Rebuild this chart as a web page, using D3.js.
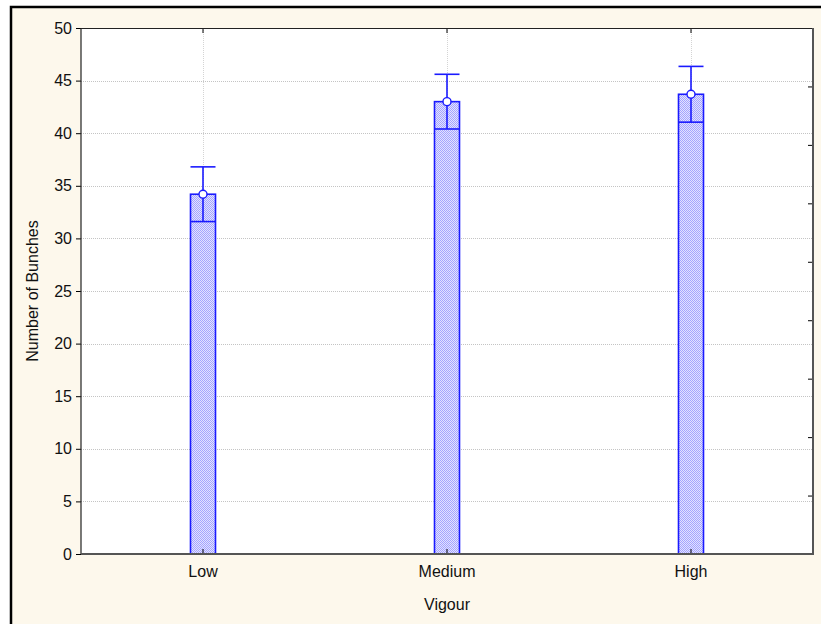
<!DOCTYPE html>
<html>
<head>
<meta charset="utf-8">
<script src="https://cdn.jsdelivr.net/npm/d3@7"></script>
<style>
  body { margin: 0; background: #fff; }
  svg text { font-family: "Liberation Sans", Arial, sans-serif; fill: #111; }
</style>
</head>
<body>
<svg width="821" height="624"></svg>
<script>
// data
let categories = ["Low", "Medium", "High"]
let means = [34.2, 43.0, 43.7]
let upper = [36.8, 45.6, 46.35]
let lower = [31.6, 40.4, 41.05]
let yTicks = [0, 5, 10, 15, 20, 25, 30, 35, 40, 45, 50]
let rightTicks = [0, 1, 2, 3, 4, 5, 6, 7]

let width = 821, height = 624,
    margin = ({ top: 28, right: 8, bottom: 70, left: 81 })

let svg = d3.select("svg")

// cream background with a black frame (runs off the right/bottom edge)
svg.append("rect")
  .attr("x", 11).attr("y", 7)
  .attr("width", 820).attr("height", 630)
  .attr("fill", "#fdf8ec")
  .attr("stroke", "#000")
  .attr("stroke-width", 2.5)

let defs = svg.append("defs")
let pat = defs.append("pattern")
  .attr("id", "check")
  .attr("patternUnits", "userSpaceOnUse")
  .attr("width", 2).attr("height", 2)
pat.append("rect").attr("width", 2).attr("height", 2).attr("fill", "#e2e2ff")
pat.append("rect").attr("width", 1).attr("height", 1).attr("fill", "#a4a4ff")
pat.append("rect").attr("x", 1).attr("y", 1).attr("width", 1).attr("height", 1).attr("fill", "#a4a4ff")

let x0 = margin.left, x1 = width - margin.right,
    y0 = height - margin.bottom, y1 = margin.top

// plot area
svg.append("rect")
  .attr("x", x0).attr("y", y1)
  .attr("width", x1 - x0).attr("height", y0 - y1)
  .attr("fill", "#fff")

let xScale = d3.scaleBand()
  .domain(categories)
  .range([x0, x1])
  .padding(0)

let yScale = d3.scaleLinear()
  .domain([0, 50])
  .range([y0, y1])

// secondary scale on the right side (ticks only, no labels)
let yRight = d3.scaleLinear()
  .domain([-1, 8])
  .range([y0, y1])

let barW = 25
let cx = d => xScale(d) + xScale.bandwidth() / 2

// grid lines
svg.append("g")
  .selectAll("line")
  .data(yTicks.slice(1, -1))
  .join("line")
  .attr("x1", x0).attr("x2", x1)
  .attr("y1", d => Math.round(yScale(d)) + 0.5)
  .attr("y2", d => Math.round(yScale(d)) + 0.5)
  .attr("stroke", "#c4c4c4")
  .attr("stroke-dasharray", "1,1")

svg.append("g")
  .selectAll("line")
  .data(categories)
  .join("line")
  .attr("x1", d => Math.round(cx(d)) + 0.5)
  .attr("x2", d => Math.round(cx(d)) + 0.5)
  .attr("y1", y1).attr("y2", y0)
  .attr("stroke", "#d4d4d4")
  .attr("stroke-dasharray", "1,1")

// bars
svg.append("g")
  .selectAll("rect")
  .data(categories)
  .join("rect")
  .attr("x", d => cx(d) - barW / 2)
  .attr("y", (d, i) => yScale(means[i]))
  .attr("width", barW)
  .attr("height", (d, i) => yScale(0) - yScale(means[i]))
  .attr("fill", "url(#check)")
  .attr("stroke", "#1a1aff")
  .attr("stroke-width", 1.6)

// error bars
let err = svg.append("g").attr("stroke", "#1a1aff").attr("stroke-width", 1.6)
err.selectAll(".stem")
  .data(categories)
  .join("line")
  .attr("class", "stem")
  .attr("x1", d => cx(d)).attr("x2", d => cx(d))
  .attr("y1", (d, i) => yScale(lower[i]))
  .attr("y2", (d, i) => yScale(upper[i]))
err.selectAll(".capU")
  .data(categories)
  .join("line")
  .attr("class", "capU")
  .attr("x1", d => cx(d) - barW / 2).attr("x2", d => cx(d) + barW / 2)
  .attr("y1", (d, i) => yScale(upper[i]))
  .attr("y2", (d, i) => yScale(upper[i]))
err.selectAll(".capL")
  .data(categories)
  .join("line")
  .attr("class", "capL")
  .attr("x1", d => cx(d) - barW / 2).attr("x2", d => cx(d) + barW / 2)
  .attr("y1", (d, i) => yScale(lower[i]))
  .attr("y2", (d, i) => yScale(lower[i]))

// mean markers
svg.append("g")
  .selectAll("circle")
  .data(categories)
  .join("circle")
  .attr("cx", d => cx(d))
  .attr("cy", (d, i) => yScale(means[i]))
  .attr("r", 4)
  .attr("fill", "#fff")
  .attr("stroke", "#1a1aff")
  .attr("stroke-width", 1.4)

// axes
let yAxis = d3.axisLeft(yScale).tickValues(yTicks).tickSize(5).tickPadding(4)
let gy = svg.append("g")
  .attr("transform", `translate(${x0},0)`)
  .call(yAxis)
gy.select(".domain").remove()
gy.selectAll("text").attr("font-size", 16)

let xAxis = d3.axisBottom(xScale).tickSizeInner(-5).tickSizeOuter(0).tickPadding(12)
let gx = svg.append("g")
  .attr("transform", `translate(0,${y0})`)
  .call(xAxis)
gx.select(".domain").remove()
gx.selectAll("text").attr("font-size", 16)

let xTop = d3.axisTop(xScale).tickSizeInner(-5).tickSizeOuter(0).tickFormat("")
let gt = svg.append("g")
  .attr("transform", `translate(0,${y1})`)
  .call(xTop)
gt.select(".domain").remove()

let rAxis = d3.axisRight(yRight).tickValues(rightTicks).tickSize(-5).tickFormat("")
let gr = svg.append("g")
  .attr("transform", `translate(${x1},0)`)
  .call(rAxis)
gr.select(".domain").remove()

// plot frame: dark top/left, heavier grey right/bottom
svg.append("path")
  .attr("d", `M${x0},${y0}V${y1 + 0.5}H${x1}`)
  .attr("fill", "none").attr("stroke", "#222").attr("stroke-width", 1.2)
svg.append("path")
  .attr("d", `M${x0},${y0}H${x1}V${y1}`)
  .attr("fill", "none").attr("stroke", "#555").attr("stroke-width", 2)

// axis titles
svg.append("text")
  .attr("x", (x0 + x1) / 2)
  .attr("y", 610)
  .attr("text-anchor", "middle")
  .attr("font-size", 16)
  .text("Vigour")

svg.append("text")
  .attr("transform", `translate(38,${(y0 + y1) / 2}) rotate(-90)`)
  .attr("text-anchor", "middle")
  .attr("font-size", 16)
  .text("Number of Bunches")
</script>
</body>
</html>
